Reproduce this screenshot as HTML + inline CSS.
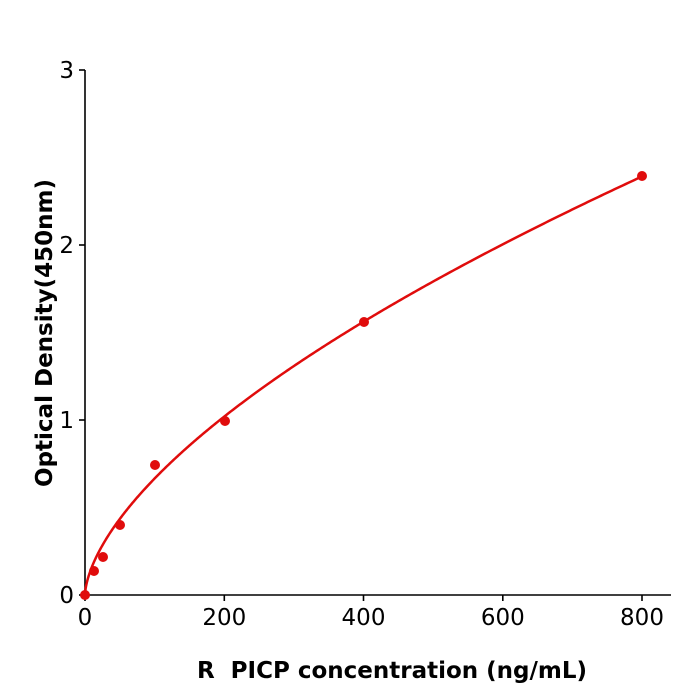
<!DOCTYPE html>
<html><head><style>body{margin:0;background:#fff}svg{display:block}</style></head><body>
<svg width="700" height="700" xmlns="http://www.w3.org/2000/svg" font-family="DejaVu Sans, Liberation Sans, sans-serif">
<g stroke="#000" stroke-width="1.6" fill="none">
<line x1="85" y1="70" x2="85" y2="596"/>
<line x1="84" y1="595" x2="671" y2="595"/>
<line x1="79" y1="595" x2="85" y2="595"/>
<line x1="79" y1="420" x2="85" y2="420"/>
<line x1="79" y1="245" x2="85" y2="245"/>
<line x1="79" y1="70" x2="85" y2="70"/>
<line x1="85" y1="595" x2="85" y2="601"/>
<line x1="224.3" y1="595" x2="224.3" y2="601"/>
<line x1="363.5" y1="595" x2="363.5" y2="601"/>
<line x1="502.8" y1="595" x2="502.8" y2="601"/>
<line x1="642" y1="595" x2="642" y2="601"/>
</g>
<g font-size="23" fill="#000">
<text x="74" y="603" text-anchor="end">0</text>
<text x="74" y="428" text-anchor="end">1</text>
<text x="74" y="253" text-anchor="end">2</text>
<text x="74" y="78" text-anchor="end">3</text>
<text x="85" y="625" text-anchor="middle">0</text>
<text x="224.3" y="625" text-anchor="middle">200</text>
<text x="363.5" y="625" text-anchor="middle">400</text>
<text x="502.8" y="625" text-anchor="middle">600</text>
<text x="642" y="625" text-anchor="middle">800</text>
</g>
<text x="392" y="678" text-anchor="middle" font-size="23" font-weight="bold">R&#160; PICP concentration (ng/mL)</text>
<text transform="translate(52,333) rotate(-90)" text-anchor="middle" font-size="23" font-weight="bold">Optical Density(450nm)</text>
<polyline id="c" fill="none" stroke="#e00c0c" stroke-width="2.5" points="85,595 642,176.8"/>
<g fill="#e00c0c">
<circle cx="85" cy="595" r="5"/>
<circle cx="94" cy="571" r="5"/>
<circle cx="103" cy="557" r="5"/>
<circle cx="120" cy="525" r="5"/>
<circle cx="155" cy="465" r="5"/>
<circle cx="225" cy="421" r="5"/>
<circle cx="364" cy="322" r="5"/>
<circle cx="642" cy="176" r="5"/>
</g>
</svg>
<script>
var p=[];for(var i=0;i<=400;i++){var x=800*Math.pow(i/400,2);var y=0.0392*Math.pow(x,0.615);p.push((85+x*0.69625).toFixed(2)+","+(595-y*175).toFixed(2));}
document.getElementById("c").setAttribute("points",p.join(" "));
</script>
</body></html>
